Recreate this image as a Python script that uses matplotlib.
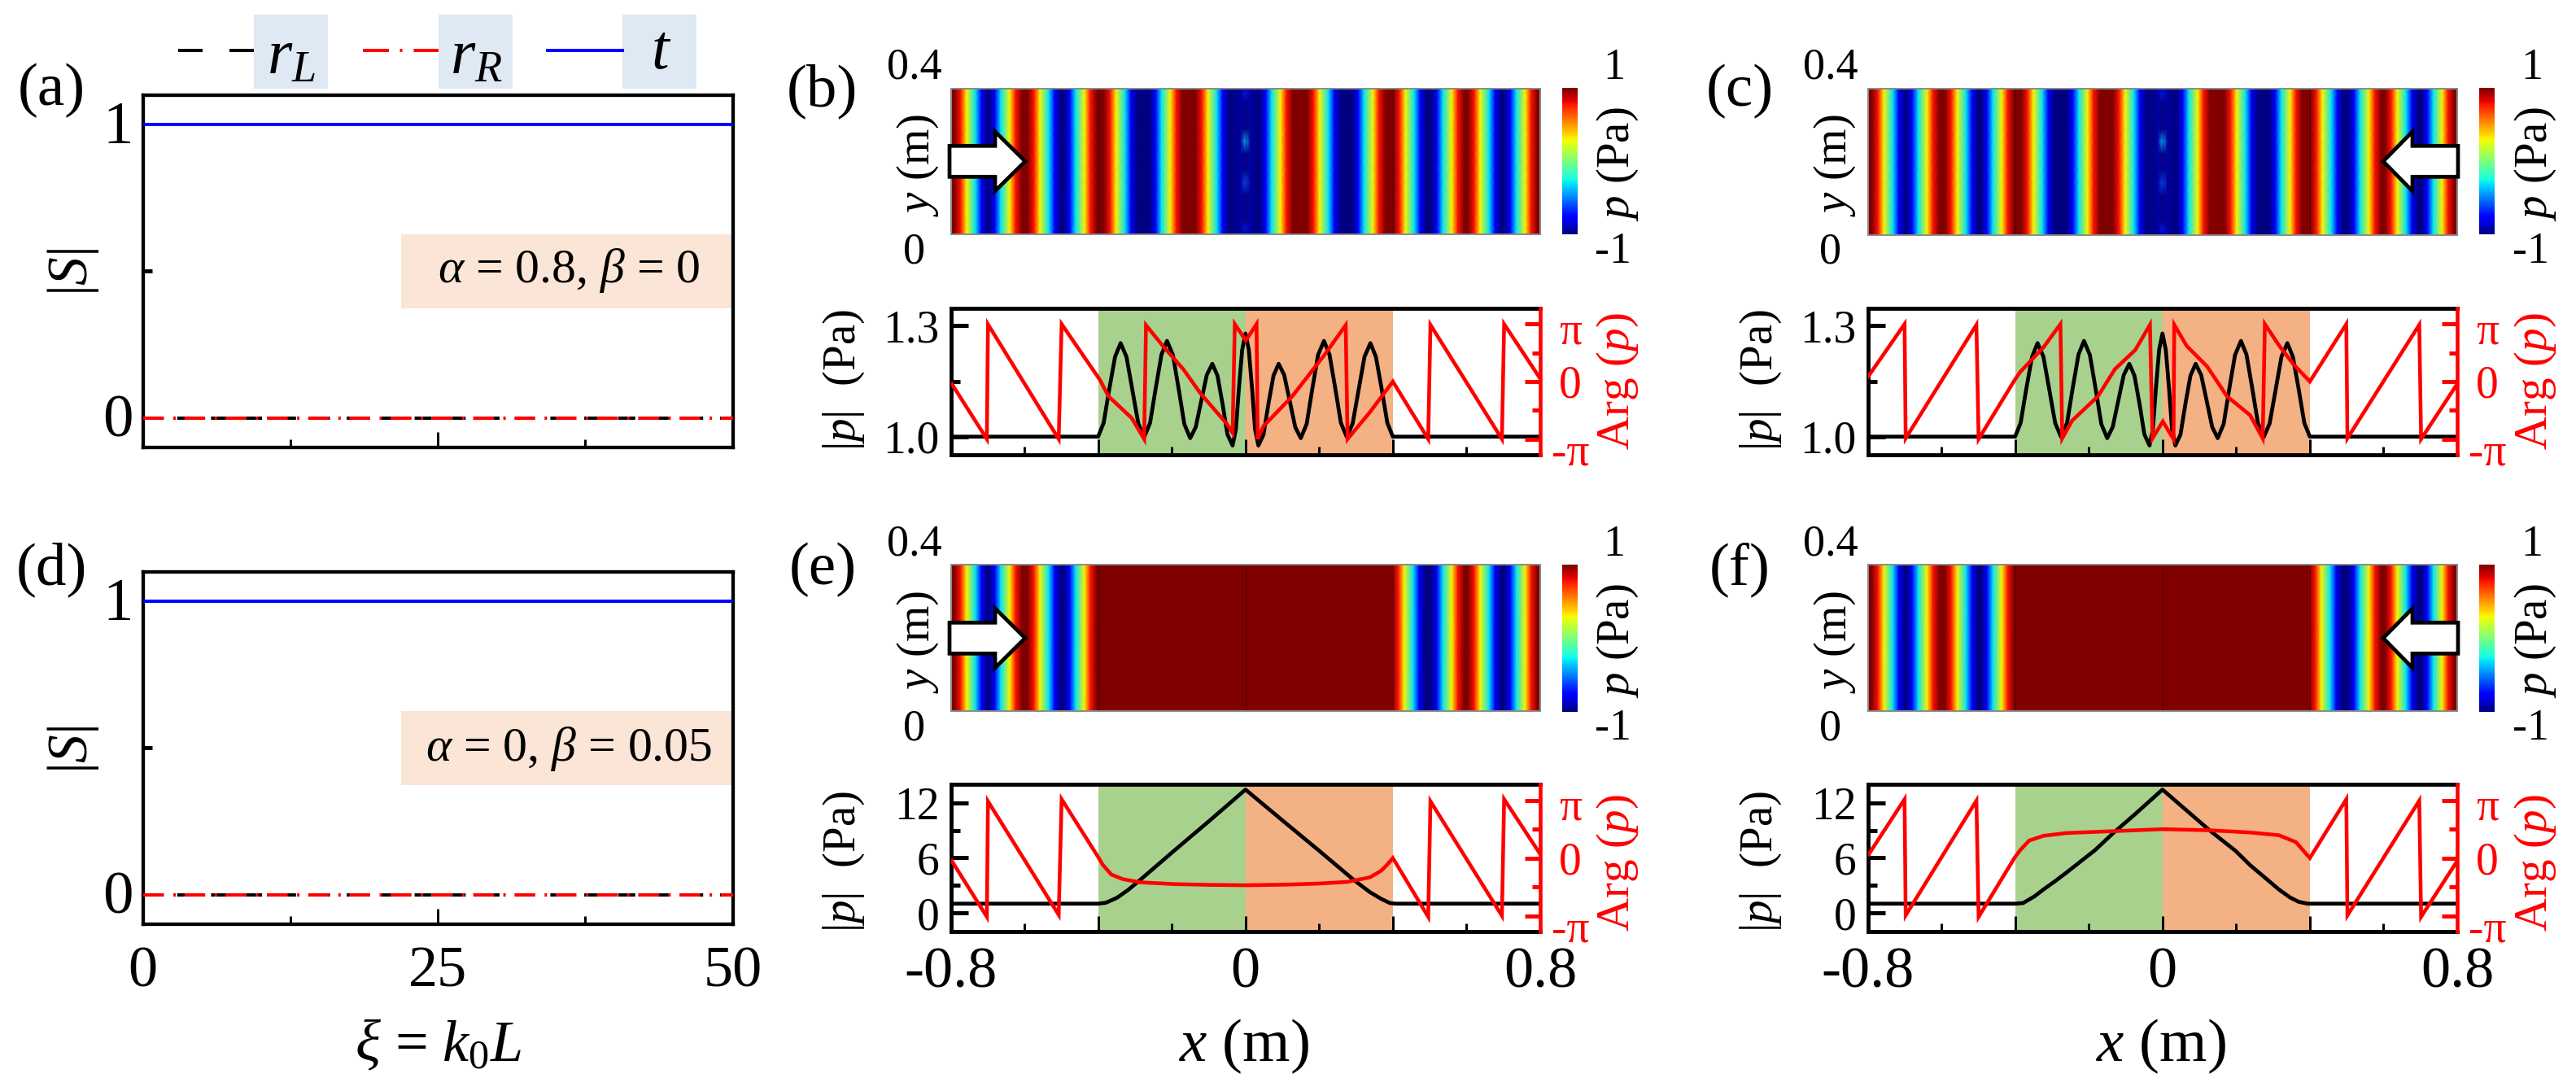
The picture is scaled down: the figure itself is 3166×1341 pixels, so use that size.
import numpy as np
import matplotlib
matplotlib.use("Agg")
import matplotlib.pyplot as plt
from matplotlib.lines import Line2D
from matplotlib.patches import Rectangle, Polygon
from matplotlib.transforms import ScaledTranslation

plt.rcParams['font.family'] = ['Liberation Serif', 'DejaVu Serif']
plt.rcParams['mathtext.fontset'] = 'custom'
plt.rcParams['mathtext.rm'] = 'Liberation Serif'
plt.rcParams['mathtext.it'] = 'Liberation Serif:italic'
plt.rcParams['mathtext.bf'] = 'Liberation Serif:bold'
plt.rcParams['lines.scale_dashes'] = False

W, H = 3166, 1341
PT = 0.72

# ---------- data ----------
xi = [0, 50]
t_a = [1, 1]
r_a = [0, 0]

x_bc = [-0.8, -0.4, -0.385, -0.37, -0.354, -0.339, -0.323, -0.307, -0.291, -0.275,
        -0.259, -0.244, -0.228, -0.213, -0.197, -0.181, -0.166, -0.150,
        -0.135, -0.120, -0.105, -0.09, -0.076, -0.062, -0.049, -0.035,
        -0.026, -0.018, -0.009, 0, 0.009, 0.018, 0.026, 0.035,
        0.049, 0.062, 0.076, 0.09, 0.105, 0.120, 0.135, 0.150,
        0.166, 0.181, 0.197, 0.213, 0.228, 0.244, 0.259, 0.275,
        0.291, 0.307, 0.323, 0.339, 0.354, 0.37, 0.385, 0.4, 0.8]
abs_bc = [1.0, 1.0, 1.037, 1.127, 1.216, 1.253, 1.216, 1.126, 1.036, 0.999,
          1.037, 1.129, 1.222, 1.259, 1.221, 1.127, 1.034, 0.996,
          1.026, 1.097, 1.167, 1.197, 1.165, 1.087, 1.006, 0.976,
          1.020, 1.128, 1.235, 1.279, 1.235, 1.128, 1.020, 0.976,
          1.006, 1.087, 1.165, 1.197, 1.167, 1.097, 1.026, 0.996,
          1.034, 1.127, 1.221, 1.259, 1.222, 1.129, 1.037, 0.999,
          1.036, 1.126, 1.216, 1.253, 1.216, 1.127, 1.037, 1.0, 1.0]

x_arg_b = [-0.797, -0.702, -0.699, -0.507, -0.499, -0.395, -0.372, -0.309, -0.275, -0.270,
           -0.224, -0.169, -0.122, -0.052, -0.035, -0.029, 0.001, 0.030, 0.033, 0.049,
           0.127, 0.213, 0.272, 0.277, 0.337, 0.400, 0.496, 0.502, 0.696, 0.702, 0.800]
arg_b = [-0.13, -3.14, 3.13, -3.14, 3.14, 0.09, -0.80, -1.99, -3.14, 3.08,
         1.94, 0.68, -0.65, -2.28, -2.80, 3.14, 2.24, 3.14, -3.14, -2.43,
         -0.80, 1.42, 3.08, -3.14, -1.69, 0.0, -3.14, 3.10, -3.14, 3.14, 0.16]

x_arg_c = [-0.8, -0.700, -0.697, -0.505, -0.499, -0.401, -0.386, -0.323, -0.277, -0.272,
           -0.245, -0.175, -0.129, -0.074, -0.034, -0.027, 0.001, 0.030, 0.032, 0.066,
           0.121, 0.175, 0.238, 0.272, 0.278, 0.315, 0.354, 0.400, 0.499, 0.502, 0.697, 0.702, 0.8]
arg_c = [0.24, 3.14, -3.10, 3.10, -3.14, 0.09, 0.53, 1.87, 3.14, -3.10,
         -2.13, -0.80, 0.68, 1.72, 3.10, -3.10, -2.18, -3.14, 3.10, 1.94,
         0.83, -0.80, -1.84, -3.10, 3.14, 2.01, 0.98, 0.0, 3.14, -3.10, 3.10, -3.14, -0.13]

x_abs_e = [-0.8, -0.4, -0.379, -0.348, -0.317, -0.286, -0.192, -0.098, 0, 0.104, 0.198,
           0.294, 0.338, 0.369, 0.392, 0.407, 0.8]
abs_e = [1.0, 1.0, 1.1, 1.66, 2.55, 3.59, 6.84, 10.04, 13.45, 9.96, 6.84,
         3.59, 2.25, 1.51, 1.07, 1.0, 1.0]
x_arg_e = [-0.797, -0.702, -0.699, -0.507, -0.499, -0.4, -0.387, -0.364, -0.333, -0.286,
           -0.192, -0.098, 0, 0.104, 0.198, 0.276, 0.338, 0.369, 0.387, 0.4,
           0.496, 0.502, 0.696, 0.702, 0.8]
arg_e = [-0.16, -3.2, 3.09, -3.09, 3.2, 0.06, -0.38, -0.90, -1.15, -1.32,
         -1.42, -1.46, -1.48, -1.45, -1.39, -1.30, -1.05, -0.68, -0.31, 0.0,
         -3.2, 3.09, -3.14, 3.2, 0.21]

x_abs_f = [-0.8, -0.4, -0.378, -0.347, -0.323, -0.292, -0.261, -0.230, -0.183, -0.136, -0.074, 0,
           0.128, 0.199, 0.238, 0.277, 0.316, 0.347, 0.370, 0.394, 0.4, 0.8]
abs_f = [1.0, 1.0, 1.07, 1.81, 2.55, 3.44, 4.38, 5.36, 6.84, 8.62, 10.78, 13.45,
         9.0, 6.74, 5.2, 3.88, 2.55, 1.66, 1.2, 1.0, 1.0, 1.0]
x_arg_f = [-0.797, -0.7, -0.697, -0.505, -0.499, -0.4, -0.386, -0.362, -0.323, -0.261,
           -0.136, 0, 0.128, 0.238, 0.316, 0.362, 0.4, 0.499, 0.502, 0.697, 0.702, 0.8]
arg_f = [0.21, 3.2, -3.12, 3.12, -3.2, 0.06, 0.43, 0.95, 1.21, 1.36,
         1.46, 1.57, 1.51, 1.39, 1.24, 0.87, 0.0, 3.2, -3.12, 3.12, -3.2, -0.16]

# x positions where the field changes sign in the colour maps (green of the jet map)
cross_bc = [-0.745, -0.652, -0.546, -0.449, -0.339, -0.216, -0.090, 0.083,
            0.213, 0.334, 0.446, 0.548, 0.649, 0.747]
cross_ef = [-0.745, -0.652, -0.546, -0.449, 0.443, 0.548, 0.649, 0.747]
# colour ramp read at each stripe edge: distance from the crossing and the level there
edge_offset = [0.012, 0.028]
edge_level = [0.3, 0.78]
edge_plateau = 0.045
# faint spots on the x = 0 line of panels (b) and (c)
spot_y = [0, 0.015, 0.04, 0.105, 0.142, 0.18, 0.22, 0.255, 0.29, 0.36, 0.39, 0.4]
spot_p = [-0.9, -0.7, -0.95, -0.95, -0.6, -0.95, -0.95, -0.4, -0.95, -0.95, -0.7, -0.9]

labels_alpha = [r'$\alpha$ = 0.8, $\beta$ = 0', r'$\alpha$ = 0, $\beta$ = 0.05']

# ---------- helpers ----------
fig = plt.figure(figsize=(W / 100, H / 100), dpi=100, facecolor='white')


def add_ax(l, t, r, b):
    return fig.add_axes([l / W, 1 - b / H, (r - l) / W, (b - t) / H])


def fx(x):
    return x / W


def fy(y):
    return 1 - y / H


def txt(x, y, s, size=39, color='k', rot=0, **kw):
    fig.text(fx(x), fy(y), s, fontsize=size, color=color, rotation=rot,
             ha='center', va='center', **kw)


def stripes(cross):
    edges = [-0.85] + list(cross) + [0.85]
    sign = 1
    xs, vs = [], []
    for a, b in zip(edges[:-1], edges[1:]):
        w = b - a
        for o, l in zip(edge_offset, edge_level):
            xs.append(a + o)
            vs.append(sign * l)
        if w > 2 * edge_plateau:
            xs += [a + edge_plateau, b - edge_plateau]
            vs += [sign, sign]
        else:
            xs.append((a + b) / 2)
            vs.append(sign)
        for o, l in zip(edge_offset[::-1], edge_level[::-1]):
            xs.append(b - o)
            vs.append(sign * l)
        sign = -sign
    return np.array(xs), np.array(vs)


def heat(box, cbox, cross, spots):
    ax = add_ax(*box)
    xs, vs = stripes(cross)
    if spots:
        for xk, vk in [(-0.014, -0.95), (0.0, -0.95), (0.014, -0.95)]:
            i = np.searchsorted(xs, xk)
            xs = np.insert(xs, i, xk)
            vs = np.insert(vs, i, vk)
        ys = np.array(spot_y)
        Z = np.tile(vs, (len(ys), 1))
        Z[:, np.argmin(np.abs(xs))] = spot_p
    else:
        ys = np.array([0, 0.4])
        Z = np.tile(vs, (2, 1))
    m = ax.pcolormesh(xs, ys, Z, shading='gouraud', cmap='jet', vmin=-1, vmax=1)
    for x0 in (-0.4, 0, 0.4):
        ax.plot([x0, x0], [0, 0.4], color='#300000', lw=0.8, alpha=0.55)
    ax.set_xlim(-0.8, 0.8)
    ax.set_ylim(0, 0.4)
    ax.set_xticks([])
    ax.set_yticks([])
    for s in ax.spines.values():
        s.set_color('#8a8a8a')
        s.set_linewidth(1.4)
    cax = add_ax(*cbox)
    cb = fig.colorbar(m, cax=cax)
    cb.set_ticks([])
    cb.outline.set_visible(False)
    return ax


def lines(box, x1, y1, x2, y2, ylim, maj, mino, ylabels, xlab):
    ax = add_ax(*box)
    ax.axvspan(-0.4, 0, color='#A9D18E', lw=0, zorder=0)
    ax.axvspan(0, 0.4, color='#F4B183', lw=0, zorder=0)
    ax.plot(x1, y1, color='k', lw=3.4, zorder=2, solid_joinstyle='round')
    ax.set_xlim(-0.8, 0.8)
    ax.set_ylim(*ylim)
    ax.set_xticks([-0.8, -0.4, 0, 0.4, 0.8])
    ax.set_xticks([-0.6, -0.2, 0.2, 0.6], minor=True)
    if xlab:
        ax.set_xticklabels(['-0.8', '', '0', '', '0.8'], fontsize=52)
    else:
        ax.set_xticklabels([])
    ax.tick_params(axis='x', which='major', direction='in', length=19 * PT, width=3 * PT, pad=18 * PT)
    ax.tick_params(axis='x', which='minor', direction='in', length=10 * PT, width=3 * PT)
    ax.set_yticks(maj)
    ax.set_yticks(mino, minor=True)
    ax.set_yticklabels(ylabels, fontsize=40)
    ax.tick_params(axis='y', which='major', direction='in', length=21 * PT, width=5 * PT, pad=14 * PT)
    ax.tick_params(axis='y', which='minor', direction='in', length=11 * PT, width=5 * PT)
    ax.set_axisbelow(False)
    ax.spines['right'].set_visible(False)
    for k in ('left', 'top', 'bottom'):
        ax.spines[k].set_linewidth(3.5)
    ax2 = ax.twinx()
    ax2.plot(x2, y2, color='#FF0000', lw=3.3, solid_joinstyle='miter')
    ax2.set_xlim(-0.8, 0.8)
    ax2.set_ylim(-4, 4)
    ax2.set_yticks([-np.pi, 0, np.pi])
    ax2.set_yticks([-np.pi / 2, np.pi / 2], minor=True)
    ax2.set_yticklabels(['-π', '0', 'π'], fontsize=40, color='#FF0000')
    ax2.tick_params(axis='y', which='major', direction='in', length=19 * PT, width=5 * PT,
                    pad=37 * PT, colors='#FF0000')
    ax2.tick_params(axis='y', which='minor', direction='in', length=10 * PT, width=5 * PT, colors='#FF0000')
    shifts = [-12, 0, -4]
    for lab, s in zip(ax2.get_yticklabels(), shifts):
        lab.set_ha('center')
        lab.set_transform(lab.get_transform() + ScaledTranslation(0, s / 100, fig.dpi_scale_trans))
    for k in ('left', 'top', 'bottom'):
        ax2.spines[k].set_visible(False)
    ax2.spines['right'].set_color('#FF0000')
    ax2.spines['right'].set_linewidth(3.3)
    return ax


def arrow(tail, neck, tip, yc):
    pts = [(tail, yc - 19), (neck, yc - 19), (neck, yc - 36.5), (tip, yc),
           (neck, yc + 36.5), (neck, yc + 19), (tail, yc + 19)]
    pts = [(fx(a), fy(b)) for a, b in pts]
    fig.add_artist(Polygon(pts, closed=True, transform=fig.transFigure, facecolor='white',
                           edgecolor='k', lw=3.4, joinstyle='miter', zorder=5))


def smat(box, peach, txty, ylab_y, label, xlab):
    ax = add_ax(*box)
    ax.plot(xi, t_a, color='#0000FF', lw=2.9, zorder=3)
    ax.plot(xi, r_a, color='k', lw=2.9, dashes=(21 * PT, 20.7 * PT), zorder=3, clip_on=False)
    ax.plot(xi, r_a, color='#FF0000', lw=2.9, dashes=(25.5 * PT, 11.5 * PT, 3 * PT, 10.7 * PT), zorder=4, clip_on=False)
    ax.set_xlim(0, 50)
    ax.set_ylim(-0.1, 1.1)
    ax.set_xticks([0, 25, 50])
    ax.set_xticks([12.5, 37.5], minor=True)
    if xlab:
        ax.set_xticklabels(['0', '25', '50'], fontsize=52)
    else:
        ax.set_xticklabels([])
    ax.tick_params(axis='x', which='major', direction='in', length=19 * PT, width=3 * PT, pad=27 * PT)
    ax.tick_params(axis='x', which='minor', direction='in', length=10 * PT, width=3 * PT)
    ax.set_yticks([0, 1])
    ax.set_yticks([0.5], minor=True)
    ax.set_yticklabels(['0', '1'], fontsize=54)
    ax.tick_params(axis='y', which='major', direction='in', length=0, pad=31 * PT)
    ax.tick_params(axis='y', which='minor', direction='in', length=11 * PT, width=5 * PT)
    for lab in ax.get_yticklabels():
        lab.set_ha('center')
        lab.set_transform(lab.get_transform() + ScaledTranslation(0, 3 / 100, fig.dpi_scale_trans))
    for s in ax.spines.values():
        s.set_linewidth(3.1)
    l, t, r, b = peach
    ax.add_patch(Rectangle((fx(l), fy(b)), (r - l) / W, (b - t) / H, transform=fig.transFigure,
                           facecolor='#FAE5D6', edgecolor='none', zorder=1))
    txt((l + r) / 2 + 3, txty, label, size=43)
    txt(90, ylab_y, r'$|S|$', size=50, rot=90)
    return ax


# ---------- panels (a), (d) ----------
smat((175.7, 116.7, 900.7, 549.7), (493, 288, 899, 379), 333, 334, labels_alpha[0], False)
smat((175.7, 703, 900.7, 1135.7), (493, 874, 899, 964.6), 920, 921, labels_alpha[1], True)
txt(63, 111, '(a)', size=54)
txt(63, 700, '(d)', size=54)
txt(539, 1286, r'$\xi$ = $k_0L$', size=52)

# legend above (a)
for l, r in [(312, 403), (539, 630), (765, 856)]:
    fig.add_artist(Rectangle((fx(l), fy(108.6)), (r - l) / W, 90.6 / H, transform=fig.transFigure,
                             facecolor='#DEE9F4', edgecolor='none', zorder=1))
yl = fy(62.4)
fig.add_artist(Line2D([fx(219), fx(312)], [yl, yl], transform=fig.transFigure, color='k', lw=2.9,
                      dashes=(30 * PT, 33 * PT)))
fig.add_artist(Line2D([fx(446), fx(539)], [yl, yl], transform=fig.transFigure, color='#FF0000', lw=2.9,
                      dashes=(32 * PT, 13.5 * PT, 3 * PT, 14 * PT)))
fig.add_artist(Line2D([fx(673), fx(765)], [yl, yl], transform=fig.transFigure, color='#0000FF', lw=2.9))
txt(358, 71, r'$r_L$', size=56)
txt(585, 71, r'$r_R$', size=56)
txt(813, 65, r'$t$', size=56)

# ---------- heat maps ----------
LB, RB = 1168.5, 1893
LC, RC = 2296, 3020
heat((LB, 108.7, RB, 287.5), (1920, 108, 1939, 288.5), cross_bc, True)
heat((LC, 108.7, RC, 288.5), (3047, 108, 3066, 288.5), cross_bc, True)
heat((LB, 694.3, RB, 874.3), (1920, 694, 1939, 875), cross_ef, False)
heat((LC, 694.3, RC, 874.3), (3047, 694, 3066, 875), cross_ef, False)

arrow(1167, 1223, 1260, 198.3)
arrow(3021, 2965, 2929, 198.3)
arrow(1167, 1223, 1260, 784.3)
arrow(3021, 2965, 2929, 784.3)

for (xl, xc, xr, y0) in [(1124, 1128, 1984, 0), (2250, 2255, 3112, 0), (1124, 1128, 1984, 586), (2250, 2255, 3112, 586)]:
    txt(xl, 83 + y0, '0.4')
    txt(xl, 310 + y0, '0')
    txt(xc, 203 + y0, r'$y$ (m)', size=41, rot=90)
    txt(xr, 83.7 + y0, '1')
    txt(xr - 1, 310 + y0, '-1')
    txt(xr + 4, 202 + y0, r'$p$ (Pa)', size=41, rot=90)

txt(1010, 112, '(b)', size=54)
txt(2138, 112, '(c)', size=54)
txt(1011, 700, '(e)', size=54)
txt(2138, 700, '(f)', size=54)

# ---------- line panels ----------
lim_top = (0.951, 1.347)
lim_bot = (-2.04, 14.0)
lines((LB, 379, RB, 559), x_bc, abs_bc, x_arg_b, arg_b, lim_top, [1.0, 1.3], [1.15], ['1.0', '1.3'], False)
lines((LC - 0.5, 379, RC, 559), x_bc, abs_bc, x_arg_c, arg_c, lim_top, [1.0, 1.3], [1.15], ['1.0', '1.3'], False)
lines((LB, 964.3, RB, 1145), x_abs_e, abs_e, x_arg_e, arg_e, lim_bot, [0, 6, 12], [3, 9], ['0', '6', '12'], True)
lines((LC - 0.5, 964.3, RC, 1145), x_abs_f, abs_f, x_arg_f, arg_f, lim_bot, [0, 6, 12], [3, 9], ['0', '6', '12'], True)

for (xl, xr, y0) in [(1037, 1988, 0), (2164, 3116, 0), (1037, 1988, 586), (2164, 3116, 586)]:
    lab_y = 466.7 + y0 + (6 if y0 else 0)
    txt(xl, lab_y, r'$|p|$  (Pa)', size=41, rot=90)
    txt(xr, lab_y + 2, r'Arg ($p$)', size=41, color='#FF0000', rot=90)

txt(1529, 1286, r'$x$ (m)', size=54)
txt(2656, 1286, r'$x$ (m)', size=54)

fig.savefig('out.png', dpi=100, facecolor='white')
